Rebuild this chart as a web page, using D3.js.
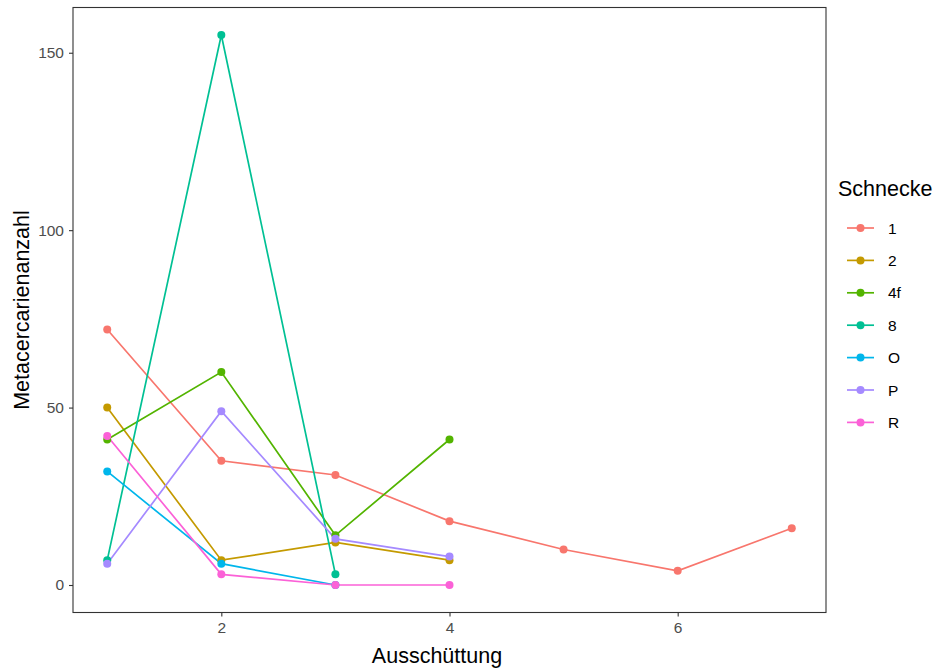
<!DOCTYPE html>
<html><head><meta charset="utf-8">
<script src="https://cdn.jsdelivr.net/npm/d3@7"></script>
<style>body{margin:0;background:#fff}svg{display:block;font-family:"Liberation Sans",Arial,Helvetica,sans-serif}</style>
</head><body><svg id="c" width="936" height="668"></svg>
<script>
const seriesNames = ["1","2","4f","8","O","P","R"];
const seriesColors = ["#F8766D","#C49A00","#53B400","#00C094","#00B6EB","#A58AFF","#FB61D7"];
const s1 = [[1,72],[2,35],[3,31],[4,18],[5,10],[6,4],[7,16]];
const s2 = [[1,50],[2,7],[3,12],[4,7]];
const s4f = [[1,41],[2,60],[3,14],[4,41]];
const s8 = [[1,7],[2,155],[3,3]];
const sO = [[1,32],[2,6],[3,0]];
const sP = [[1,6],[2,49],[3,13],[4,8]];
const sR = [[1,42],[2,3],[3,0],[4,0]];
const seriesValues = [s1,s2,s4f,s8,sO,sP,sR];
const xTicks = [2,4,6];
const yTicks = [0,50,100,150];

const svg = d3.select("#c");
const L=73, R=826, T=7.5, B=612.5;
const x = d3.scaleLinear().domain([0.7,7.3]).range([L,R]);
const y = d3.scaleLinear().domain([-7.75,162.75]).range([B,T]);

const line = d3.line().x(d=>x(d[0])).y(d=>y(d[1]));
seriesValues.forEach((s,i)=>{
  svg.append("path").attr("d",line(s)).attr("fill","none")
    .attr("stroke",seriesColors[i]).attr("stroke-width",1.7);
});
seriesValues.forEach((s,i)=>{
  svg.append("g").selectAll("circle").data(s).join("circle")
    .attr("cx",d=>x(d[0])).attr("cy",d=>y(d[1])).attr("r",4)
    .attr("fill",seriesColors[i]);
});

svg.append("rect").attr("x",L).attr("y",T).attr("width",R-L).attr("height",B-T)
  .attr("fill","none").attr("stroke","#333").attr("stroke-width",1.1);

const xa = svg.append("g").attr("transform",`translate(0,${B})`)
  .call(d3.axisBottom(x).tickValues(xTicks).tickSize(4).tickPadding(5).tickFormat(d3.format("d")));
const ya = svg.append("g").attr("transform",`translate(${L},0)`)
  .call(d3.axisLeft(y).tickValues(yTicks).tickSize(4).tickPadding(5).tickFormat(d3.format("d")));
[xa,ya].forEach(a=>{
  a.select(".domain").remove();
  a.selectAll(".tick line").attr("stroke","#333").attr("stroke-width",1.1);
  a.selectAll(".tick text").attr("fill","#4D4D4D").style("font-size","15.5px").style("font-family","'Liberation Sans',Arial,sans-serif");
});

svg.append("text").attr("x",437).attr("y",663).attr("text-anchor","middle")
  .style("font-size","21.5px").attr("fill","#000").text("Ausschüttung");
svg.append("text").attr("transform",`translate(29,${(T+B)/2}) rotate(-90)`).attr("text-anchor","middle")
  .style("font-size","21.5px").attr("fill","#000").text("Metacercarienanzahl");

const lg = svg.append("g");
lg.append("text").attr("x",838).attr("y",196).style("font-size","21.5px").attr("fill","#000").text("Schnecke");
seriesNames.forEach((n,i)=>{
  const cy = 228 + i*32.4;
  lg.append("line").attr("x1",847).attr("x2",874).attr("y1",cy).attr("y2",cy)
    .attr("stroke",seriesColors[i]).attr("stroke-width",1.7);
  lg.append("circle").attr("cx",860.5).attr("cy",cy).attr("r",4).attr("fill",seriesColors[i]);
  lg.append("text").attr("x",888).attr("y",cy+5.5).style("font-size","15.5px").attr("fill","#000").text(n);
});
</script></body></html>
